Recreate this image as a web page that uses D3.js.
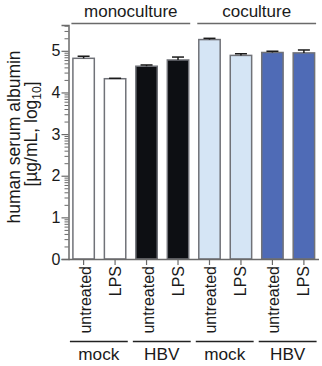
<!DOCTYPE html>
<html>
<head>
<meta charset="utf-8">
<script src="https://cdn.jsdelivr.net/npm/d3@7"></script>
<style>
  html, body { margin: 0; padding: 0; background: #fff; }
  svg { display: block; }
  text { font-family: "Liberation Sans", Arial, sans-serif; fill: #1a1a1a; }
</style>
</head>
<body>
<svg id="chart" width="322" height="366"></svg>
<script>
// ---- data ----
const categories = ["untreated", "LPS", "untreated", "LPS", "untreated", "LPS", "untreated", "LPS"];
const groups = ["mock", "HBV", "mock", "HBV"];
const cultures = ["monoculture", "coculture"];
const means = [4.82, 4.33, 4.63, 4.78, 5.27, 4.89, 4.96, 4.95];
const errors = [0.05, 0.01, 0.03, 0.07, 0.03, 0.04, 0.03, 0.07];
const fills = ["#ffffff", "#ffffff", "#0d0f13", "#0d0f13", "#d5e5f5", "#d5e5f5", "#4f6bb6", "#4f6bb6"];
const yTicks = [0, 1, 2, 3, 4, 5];

// ---- layout ----
const svg = d3.select("#chart");
const axisColor = "#6a6a6a";
const idx = d3.range(categories.length);

const x = d3.scaleBand().domain(idx).range([68.5, 319]).paddingInner(0.32).paddingOuter(0.14);
const y = d3.scaleLinear().domain([0, 5.62]).range([259, 25]);
const bw = x.bandwidth();

// bars
svg.selectAll("rect.bar").data(idx).enter().append("rect")
  .attr("class", "bar")
  .attr("x", i => x(i))
  .attr("y", i => y(means[i]))
  .attr("width", bw)
  .attr("height", i => y(0) - y(means[i]))
  .attr("fill", i => fills[i])
  .attr("stroke", "#707278")
  .attr("stroke-width", 1.5);

// error bars (upper only)
const eb = svg.selectAll("g.err").data(idx).enter().append("g").attr("class", "err");
eb.append("line")
  .attr("x1", i => x(i) + bw / 2).attr("x2", i => x(i) + bw / 2)
  .attr("y1", i => y(means[i])).attr("y2", i => y(means[i] + errors[i]))
  .attr("stroke", "#1a1a1a").attr("stroke-width", 1.5);
eb.append("line")
  .attr("x1", i => x(i) + bw / 2 - 6).attr("x2", i => x(i) + bw / 2 + 6)
  .attr("y1", i => y(means[i] + errors[i])).attr("y2", i => y(means[i] + errors[i]))
  .attr("stroke", "#1a1a1a").attr("stroke-width", 1.5);

// y axis
const yAxis = d3.axisLeft(y).tickValues(yTicks).tickSize(7).tickPadding(1).tickFormat(d3.format("d"));
const gy = svg.append("g").attr("transform", "translate(68.5,0)").call(yAxis);
gy.select(".domain").attr("stroke", axisColor).attr("stroke-width", 1.5);
gy.selectAll(".tick line").attr("stroke", axisColor).attr("stroke-width", 1.2);
gy.selectAll(".tick text").attr("font-size", 16).attr("fill", "#1a1a1a")
  .style("font-family", '"Liberation Sans", Arial, sans-serif');

// minor log ticks
const minor = [];
for (let d = 0; d < 6; d++) {
  for (let k = 2; k <= 9; k++) {
    const v = d + Math.log10(k);
    if (v <= 5.62) minor.push(v);
  }
}
const yMinor = d3.axisLeft(y).tickValues(minor).tickSize(4).tickFormat("");
const gm = svg.append("g").attr("transform", "translate(68.5,0)").call(yMinor);
gm.select(".domain").remove();
gm.selectAll(".tick line").attr("stroke", axisColor).attr("stroke-width", 1);

// x axis
const xAxis = d3.axisBottom(x).tickSize(6).tickFormat("");
const gx = svg.append("g").attr("transform", "translate(0,259)").call(xAxis);
gx.select(".domain").attr("stroke", axisColor).attr("stroke-width", 1.5).attr("d", "M68.5,0.5H319");
gx.selectAll(".tick line").attr("stroke", axisColor).attr("stroke-width", 1.2);

// rotated category labels
svg.selectAll("text.cat").data(idx).enter().append("text")
  .attr("class", "cat")
  .attr("transform", i => `translate(${x(i) + bw / 2 + (categories[i] === "LPS" ? 5.5 : 7)},266) rotate(-90)`)
  .attr("text-anchor", "end")
  .attr("font-size", 16)
  .text(i => categories[i]);

// group lines + labels
groups.forEach((g, j) => {
  const a = x(j * 2) - 3, b = x(j * 2 + 1) + bw + 2;
  svg.append("line").attr("x1", a).attr("x2", b).attr("y1", 341.5).attr("y2", 341.5)
    .attr("stroke", "#222").attr("stroke-width", 1.5);
  svg.append("text").attr("x", (a + b) / 2).attr("y", 359.5).attr("text-anchor", "middle")
    .attr("font-size", 17.2).text(g);
});

// culture lines + titles
cultures.forEach((c, j) => {
  const a = x(j * 4) - 1.5, b = x(j * 4 + 3) + bw + 1.5;
  svg.append("line").attr("x1", a).attr("x2", b).attr("y1", 23.5).attr("y2", 23.5)
    .attr("stroke", axisColor).attr("stroke-width", 1.5);
  svg.append("text").attr("x", (a + b) / 2).attr("y", 17).attr("text-anchor", "middle")
    .attr("font-size", 17).text(c);
});

// y label
const yl = svg.append("text")
  .attr("transform", "translate(19.5,137) rotate(-90)")
  .attr("text-anchor", "middle")
  .attr("font-size", 17.5);
yl.append("tspan").attr("x", 0).attr("dy", 0).text("human serum albumin");
const t2 = svg.append("text")
  .attr("transform", "translate(37,134) rotate(-90)")
  .attr("text-anchor", "middle")
  .attr("font-size", 17.5);
t2.append("tspan").text("[µg/mL, log");
t2.append("tspan").attr("font-size", 12).attr("dy", 4).text("10");
t2.append("tspan").attr("dy", -4).text("]");
</script>
</body>
</html>
